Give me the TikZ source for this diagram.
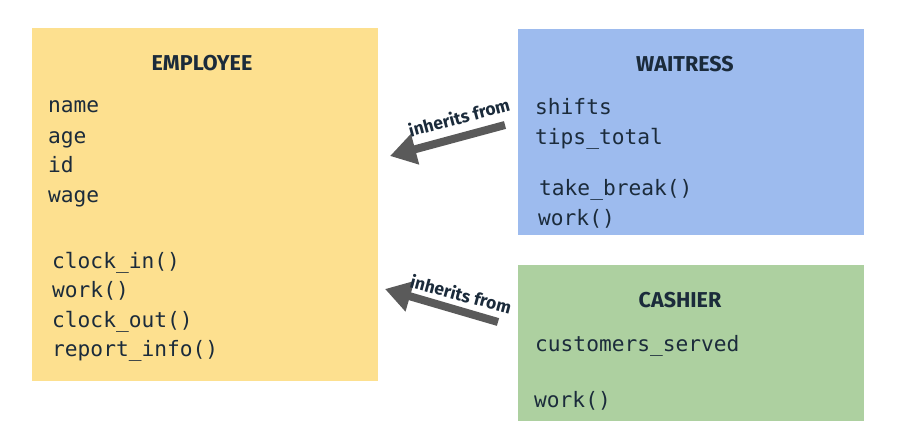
\documentclass[tikz,border=0pt]{standalone}
\usepackage{fontspec}
\setmainfont{Fira Sans}
\newfontfamily\monof{DejaVu Sans Mono}
\newfontfamily\titlef{Fira Sans Bold}
\usetikzlibrary{arrows.meta}
\definecolor{ink}{HTML}{1B2B3B}
\definecolor{empfill}{HTML}{FDE08F}
\definecolor{waifill}{HTML}{9DBBEE}
\definecolor{casfill}{HTML}{ADD0A0}
\definecolor{arrowgray}{HTML}{5A5A5A}
\tikzset{
  classbox/.style={draw=none, inner sep=0pt, anchor=north west},
  ctitle/.style={anchor=base, text=ink, font=\titlef\fontsize{21.5}{21.5}\selectfont, inner sep=0pt},
  member/.style={anchor=base west, text=ink, font=\monof\fontsize{21.2}{21.2}\selectfont, inner sep=0pt},
  inharrow/.style={draw=arrowgray, line width=8pt, -{Triangle[length=26pt,width=30pt]}},
  inhlabel/.style={text=ink, font=\titlef\fontsize{17.5}{17.5}\selectfont, inner sep=0pt}
}
\begin{document}
\begin{tikzpicture}[x=1pt,y=-1pt]
\useasboundingbox[fill=white] (0,0) rectangle (904,433);
% boxes
\node[classbox, fill=empfill, minimum width=346pt, minimum height=353pt] (emp) at (32,28) {};
\node[classbox, fill=waifill, minimum width=346pt, minimum height=206pt] (wai) at (518,29) {};
\node[classbox, fill=casfill, minimum width=346pt, minimum height=156pt] (cas) at (518,265) {};
% employee
\node[ctitle] (empt) at (202,70.5) {EMPLOYEE};
\node[member] (e1) at (48,113) {name};
\node[member] (e2) at (48,143) {age};
\node[member] (e3) at (48,172) {id};
\node[member] (e4) at (48,202) {wage};
\node[member] (e5) at (52,268) {clock\_in()};
\node[member] (e6) at (52,297) {work()};
\node[member] (e7) at (52,327) {clock\_out()};
\node[member] (e8) at (52,356) {report\_info()};
% waitress
\node[ctitle] (wait) at (685,71.5) {WAITRESS};
\node[member] (w1) at (535,114) {shifts};
\node[member] (w2) at (535,144) {tips\_total};
\node[member] (w3) at (539,195) {take\_break()};
\node[member] (w4) at (538,225) {work()};
% cashier
\node[ctitle] (cast) at (680,307.5) {CASHIER};
\node[member] (c1) at (535,351) {customers\_served};
\node[member] (c2) at (534,407) {work()};
% arrows
\coordinate (a1s) at (505,125);
\coordinate (a1e) at (390,156);
\coordinate (a2s) at (498,322);
\coordinate (a2e) at (385,289);
\draw[inharrow] (a1s) -- (a1e);
\draw[inharrow] (a2s) -- (a2e);
\node[inhlabel, rotate=15] (l1) at (459,117) {inherits from};
\node[inhlabel, rotate=-15] (l2) at (461,294) {inherits from};
\end{tikzpicture}
\end{document}
